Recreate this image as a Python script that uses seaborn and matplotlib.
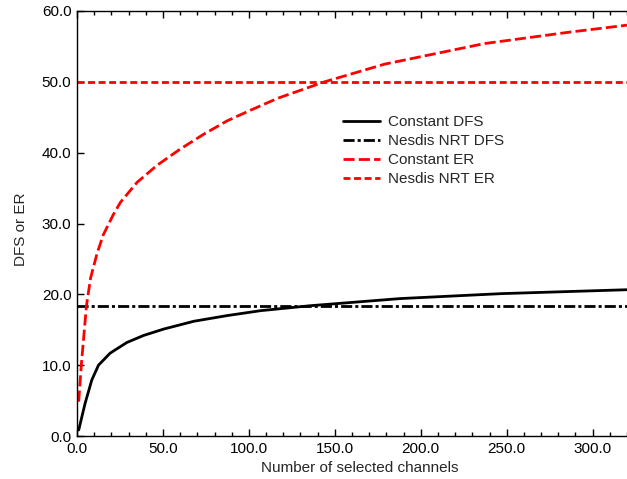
import numpy as np
import pandas as pd
import matplotlib
matplotlib.use("Agg")
import matplotlib.pyplot as plt
from matplotlib.ticker import MultipleLocator, FormatStrFormatter
import seaborn as sns

# ---- data ----
dfs_x = [1, 4.7, 8.6, 12.5, 19.3, 29, 38.8, 50.5, 68, 87.4, 107, 136, 188, 247, 300, 320]
dfs_y = [0.85, 4.6, 7.9, 10.0, 11.7, 13.2, 14.2, 15.1, 16.2, 17.0, 17.7, 18.4, 19.4, 20.1, 20.5, 20.65]

er_x = [1, 2.6, 5.5, 7.9, 11.7, 15.3, 21, 25.3, 34.9, 46.5, 60, 73.7, 87.4, 101, 117, 144, 179, 237, 286, 320]
er_y = [4.85, 10.3, 18.4, 22.3, 25.8, 28.4, 31.2, 33.0, 35.8, 38.2, 40.5, 42.6, 44.5, 46.0, 47.7, 50.0, 52.5, 55.4, 57.0, 58.0]

nrt_x = [0, 320]
nrt_dfs = [18.4, 18.4]
nrt_er = [50.0, 50.0]

series_names = ["Constant DFS", "Nesdis NRT DFS", "Constant ER", "Nesdis NRT ER"]

frames = [
    pd.DataFrame({"x": dfs_x, "y": dfs_y, "series": series_names[0]}),
    pd.DataFrame({"x": nrt_x, "y": nrt_dfs, "series": series_names[1]}),
    pd.DataFrame({"x": er_x, "y": er_y, "series": series_names[2]}),
    pd.DataFrame({"x": nrt_x, "y": nrt_er, "series": series_names[3]}),
]
df = pd.concat(frames, ignore_index=True)

sns.set_style("ticks")
plt.rcParams["font.family"] = ["Liberation Sans", "DejaVu Sans"]
plt.rcParams["font.size"] = 11

fig = plt.figure(figsize=(6.27, 4.79), dpi=100)
W, H = 627, 479
ax = fig.add_axes([77 / W, (H - 436) / H, (627 - 77) / W, (436 - 11) / H])

palette = {series_names[0]: "black", series_names[1]: "black",
           series_names[2]: "#ff0000", series_names[3]: "#ff0000"}
dashes = {series_names[0]: "",
          series_names[1]: (4.0, 1.1, 1.1, 1.1),
          series_names[2]: (4.0, 1.5),
          series_names[3]: (2.5, 1.3)}

sns.lineplot(data=df, x="x", y="y", hue="series", style="series",
             hue_order=series_names, style_order=series_names,
             palette=palette, dashes=dashes, linewidth=2.0,
             sort=False, estimator=None, ax=ax)

ax.set_xlim(0, 320)
ax.set_ylim(0, 60)
ax.xaxis.set_major_locator(MultipleLocator(50))
ax.xaxis.set_minor_locator(MultipleLocator(10))
ax.yaxis.set_major_locator(MultipleLocator(10))
ax.xaxis.set_major_formatter(FormatStrFormatter("%.1f"))
ax.yaxis.set_major_formatter(FormatStrFormatter("%.1f"))
ax.tick_params(axis="both", which="both", direction="in", top=True,
               right=False, labelsize=11, colors="black", width=1.0)
ax.tick_params(axis="both", which="major", length=5, pad=4)
ax.tick_params(axis="both", which="minor", length=3)
for s in ["left", "bottom", "top"]:
    ax.spines[s].set_visible(True)
    ax.spines[s].set_color("black")
    ax.spines[s].set_linewidth(1.0)
ax.spines["right"].set_visible(False)

ax.set_xlabel("Number of selected channels", fontsize=11)
ax.set_ylabel("DFS or ER", fontsize=11)
ax.xaxis.set_label_coords((360 - 77) / 550, -(461 - 436) / 425)
ax.yaxis.set_label_coords((28 - 77) / 550, (436 - 229) / 425)

handles, labels = ax.get_legend_handles_labels()
ax.legend(handles, labels, loc="upper left",
          bbox_to_anchor=(343 / W, 1 - 115 / H), bbox_transform=fig.transFigure,
          frameon=False, fontsize=11, handlelength=2.4, handletextpad=0.55,
          labelspacing=0.33, borderpad=0, borderaxespad=0)

fig.savefig("out.png", dpi=100)
